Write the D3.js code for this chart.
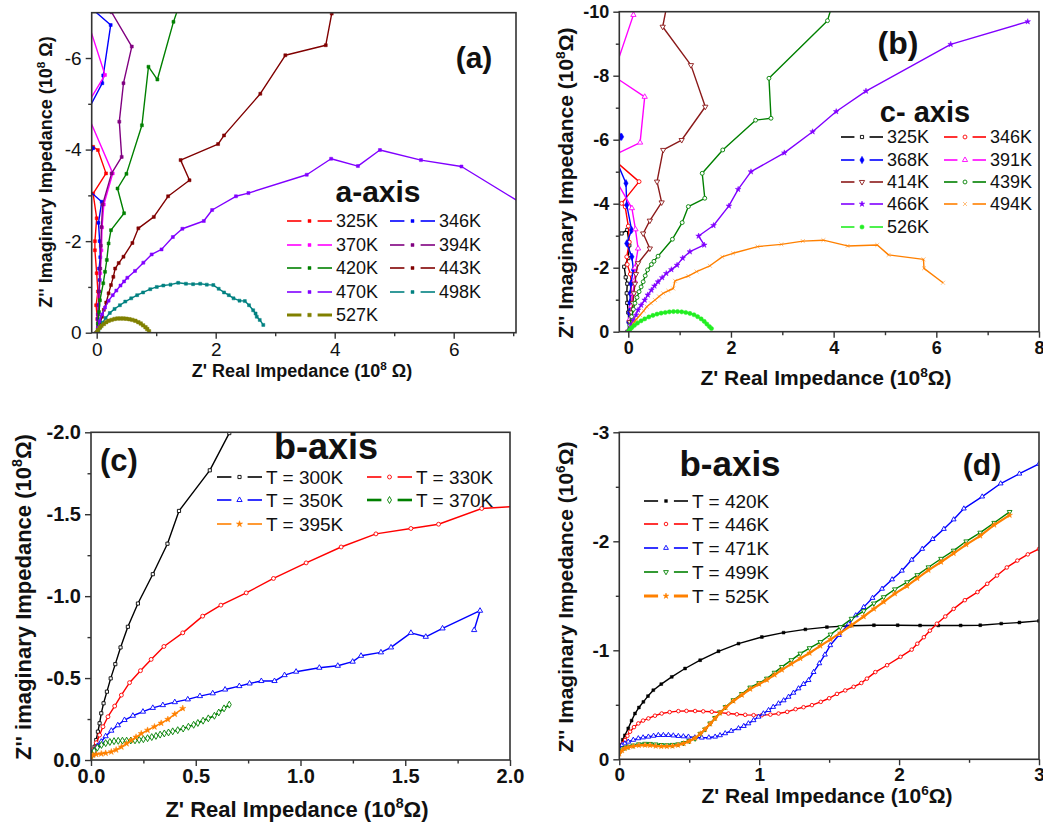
<!DOCTYPE html>
<html><head><meta charset="utf-8">
<script src="https://cdn.jsdelivr.net/npm/d3@7"></script>
<style>body{margin:0;background:#fff} svg{display:block} text{font-family:"Liberation Sans",Arial,sans-serif;fill:#111}</style>
</head><body><svg id="c" width="1043" height="822"></svg>
<script>
// ---------- Panel (a): a-axis, values in 10^8 ohm ----------
const a325 = [[0,0],[0.01,-0.3],[-0.01,-0.6],[0.02,-0.9],[0.0,-1.3],[-0.03,-1.8],[-0.03,-2.0],[0.0,-2.5],[-0.06,-3.04],[0.157,-3.48],[0.02,-3.99],[-0.06,-4.06],[-0.2,-4.2]];
const a346 = [[0,0],[0.02,-0.3],[0.03,-0.6],[0.04,-0.9],[0.05,-1.15],[0.04,-1.4],[0.06,-1.65],[0.05,-2.0],[0.03,-2.4],[0.084,-2.86],[-0.3,-3.3],[-0.06,-4.03],[-0.3,-4.48],[0.094,-5.45],[0.11,-5.62],[0.235,-6.72],[-0.1,-7.1]];
const a370 = [[0,0],[0.02,-0.4],[0.04,-0.8],[0.06,-1.3],[0.08,-1.8],[0.09,-2.3],[0.12,-2.8],[0.27,-3.48],[-0.2,-4.9],[0.14,-5.63],[-0.2,-7.0]];
const a394 = [[0,0],[0.02,-0.4],[0.04,-0.9],[0.06,-1.4],[0.07,-1.9],[0.08,-2.31],[0.1,-2.8],[0.25,-3.48],[0.42,-3.84],[0.38,-4.61],[0.45,-5.45],[0.59,-6.25],[0.25,-7.0],[0.2,-7.3]];
const a420 = [[0,0],[0.02,-0.2],[0.04,-0.45],[0.055,-0.71],[0.11,-1.08],[0.14,-1.33],[0.17,-1.59],[0.2,-1.95],[0.24,-2.24],[0.46,-2.61],[0.35,-3.15],[0.5,-3.47],[0.76,-4.53],[0.87,-5.81],[1.02,-5.53],[1.29,-6.79],[1.4,-7.2]];
const a443 = [[0,0],[0.03,-0.1],[0.06,-0.22],[0.09,-0.35],[0.12,-0.5],[0.16,-0.66],[0.2,-0.86],[0.24,-1.04],[0.28,-1.22],[0.31,-1.40],[0.37,-1.52],[0.45,-1.66],[0.6,-1.96],[0.7,-2.28],[0.96,-2.53],[1.2,-2.98],[1.56,-3.33],[1.41,-3.77],[2.04,-4.12],[2.14,-4.31],[2.75,-5.22],[3.17,-6.06],[3.85,-6.28],[3.95,-6.97],[4.0,-7.4]];
const a470 = [[0,0],[0.02,-0.1],[0.05,-0.25],[0.09,-0.4],[0.14,-0.55],[0.2,-0.7],[0.27,-0.82],[0.33,-0.92],[0.4,-1.03],[0.46,-1.12],[0.515,-1.2],[0.644,-1.35],[0.784,-1.53],[0.924,-1.71],[1.09,-1.82],[1.28,-2.09],[1.44,-2.27],[1.8,-2.44],[1.94,-2.68],[2.34,-2.98],[2.55,-3.05],[3.53,-3.45],[3.94,-3.8],[4.39,-3.64],[4.76,-3.99],[5.45,-3.77],[6.13,-3.63],[7.3,-2.7]];
const a498 = [[0,0],[0.03,-0.05],[0.06,-0.12],[0.1,-0.22],[0.15,-0.32],[0.22,-0.43],[0.3,-0.52],[0.39,-0.6],[0.48,-0.68],[0.58,-0.75],[0.68,-0.82],[0.78,-0.88],[0.9,-0.95],[1.01,-1.0],[1.12,-1.03],[1.24,-1.05],[1.37,-1.09],[1.5,-1.07],[1.62,-1.06],[1.74,-1.07],[1.85,-1.05],[1.96,-1.04],[2.05,-0.96],[2.14,-0.88],[2.22,-0.82],[2.3,-0.75],[2.4,-0.7],[2.49,-0.69],[2.56,-0.6],[2.63,-0.49],[2.67,-0.42],[2.69,-0.35],[2.74,-0.28],[2.8,-0.17]];
const a527 = [[0,0],[0.02,-0.06],[0.05,-0.11],[0.08,-0.15],[0.12,-0.19],[0.16,-0.23],[0.2,-0.26],[0.25,-0.28],[0.3,-0.3],[0.35,-0.31],[0.4,-0.31],[0.45,-0.31],[0.5,-0.305],[0.55,-0.295],[0.6,-0.28],[0.65,-0.26],[0.7,-0.23],[0.74,-0.2],[0.78,-0.16],[0.82,-0.12],[0.85,-0.08],[0.88,-0.03]];
const aLabels = ["325K","346K","370K","394K","420K","443K","470K","498K","527K"];

// ---------- Panel (b): c-axis, values in 10^8 ohm ----------
const b325 = [[0,0],[0.01,-0.3],[0.0,-0.6],[-0.02,-0.9],[-0.03,-1.2],[-0.02,-1.5],[-0.05,-1.7],[-0.08,-2.03],[0.0,-2.3],[0.02,-2.7],[-0.02,-3.18],[-0.13,-3.07],[-0.3,-3.0]];
const b346 = [[0,0],[0.02,-0.3],[0.03,-0.6],[0.05,-0.9],[0.05,-1.2],[0.06,-1.5],[0.04,-1.8],[-0.02,-2.1],[-0.03,-2.34],[0.02,-2.8],[0.0,-3.3],[-0.06,-3.9],[-0.13,-4.01],[0.21,-4.69],[-0.3,-5.4]];
const b368 = [[0,0],[0.01,-0.3],[0.02,-0.6],[0.03,-0.9],[0.04,-1.2],[0.05,-1.5],[0.1,-1.93],[0.07,-2.34],[-0.03,-2.76],[0.065,-3.18],[-0.03,-3.96],[-0.045,-4.64],[-0.3,-5.6],[-0.13,-6.09],[-0.3,-6.6]];
const b391 = [[0,0],[0.03,-0.4],[0.06,-0.8],[0.09,-1.2],[0.12,-1.6],[0.13,-2.0],[0.19,-2.6],[0.14,-3.2],[0.07,-3.86],[-0.3,-4.9],[-0.3,-5.5],[0.23,-5.91],[0.32,-7.34],[-0.3,-8.0],[0.1,-9.9],[0.12,-10.3]];
const b414 = [[0,0],[0.03,-0.3],[0.06,-0.6],[0.09,-0.9],[0.11,-1.2],[0.13,-1.5],[0.15,-1.8],[0.19,-2.14],[0.42,-2.6],[0.29,-3.07],[0.42,-3.47],[0.65,-4.04],[0.56,-4.69],[0.68,-5.68],[1.04,-5.99],[1.5,-7.03],[1.22,-8.33],[0.67,-9.53],[0.74,-10.1]];
const b439 = [[0,0],[0.03,-0.2],[0.065,-0.47],[0.1,-0.7],[0.13,-0.89],[0.17,-1.07],[0.21,-1.25],[0.25,-1.4],[0.29,-1.56],[0.33,-1.75],[0.375,-1.93],[0.45,-2.1],[0.5,-2.2],[0.58,-2.36],[0.86,-2.89],[1.05,-3.41],[1.17,-3.91],[1.49,-4.17],[1.44,-4.95],[1.84,-5.68],[2.48,-6.61],[2.78,-6.67],[2.74,-7.92],[3.88,-9.72],[3.95,-10.1]];
const b466 = [[0,0],[0.05,-0.2],[0.1,-0.36],[0.15,-0.52],[0.19,-0.68],[0.25,-0.83],[0.32,-0.99],[0.38,-1.15],[0.45,-1.3],[0.51,-1.43],[0.58,-1.56],[0.66,-1.69],[0.74,-1.82],[0.84,-1.94],[0.95,-2.08],[1.06,-2.3],[1.2,-2.5],[1.48,-2.71],[1.37,-2.99],[1.66,-3.32],[1.96,-3.93],[2.14,-4.45],[2.39,-5.0],[3.04,-5.59],[3.59,-6.25],[4.05,-6.88],[4.63,-7.52],[6.28,-8.98],[7.78,-9.69]];
const b494 = [[0,0],[0.05,-0.12],[0.1,-0.26],[0.16,-0.39],[0.23,-0.52],[0.3,-0.65],[0.36,-0.78],[0.44,-0.89],[0.52,-0.99],[0.6,-1.1],[0.68,-1.2],[0.78,-1.28],[0.875,-1.35],[0.91,-1.59],[1.17,-1.74],[1.33,-1.88],[1.59,-2.06],[1.83,-2.34],[2.04,-2.45],[2.52,-2.66],[2.98,-2.73],[3.4,-2.83],[3.8,-2.86],[4.27,-2.68],[4.85,-2.71],[5.07,-2.4],[5.75,-2.26],[5.76,-1.98],[6.13,-1.53]];
const b526 = [[0,0],[0.03,-0.06],[0.07,-0.13],[0.12,-0.2],[0.18,-0.27],[0.25,-0.34],[0.32,-0.4],[0.4,-0.46],[0.48,-0.51],[0.56,-0.55],[0.64,-0.58],[0.72,-0.6],[0.8,-0.62],[0.88,-0.63],[0.96,-0.63],[1.04,-0.62],[1.12,-0.6],[1.2,-0.57],[1.28,-0.53],[1.35,-0.47],[1.42,-0.4],[1.48,-0.32],[1.53,-0.24],[1.58,-0.16],[1.62,-0.1]];
const bLabels = ["325K","346K","368K","391K","414K","439K","466K","494K","526K"];

// ---------- Panel (c): b-axis low T, values in 10^8 ohm ----------
const c300 = [[0,-0.02],[0.01,-0.05],[0.017,-0.081],[0.025,-0.122],[0.033,-0.173],[0.041,-0.224],[0.049,-0.285],[0.06,-0.346],[0.076,-0.417],[0.094,-0.498],[0.116,-0.585],[0.141,-0.687],[0.176,-0.813],[0.224,-0.955],[0.295,-1.134],[0.365,-1.32],[0.42,-1.52],[0.567,-1.768],[0.66,-1.995],[0.68,-2.05]];
const c330 = [[0.005,-0.03],[0.014,-0.065],[0.025,-0.105],[0.041,-0.152],[0.057,-0.203],[0.081,-0.264],[0.113,-0.329],[0.145,-0.396],[0.184,-0.472],[0.236,-0.545],[0.287,-0.614],[0.348,-0.693],[0.438,-0.776],[0.533,-0.878],[0.62,-0.945],[0.741,-1.02],[0.871,-1.108],[1.027,-1.203],[1.194,-1.3],[1.36,-1.38],[1.527,-1.413],[1.659,-1.439],[1.865,-1.535],[2.05,-1.55]];
const c350 = [[0.005,-0.03],[0.014,-0.057],[0.03,-0.085],[0.049,-0.112],[0.07,-0.145],[0.097,-0.179],[0.128,-0.212],[0.16,-0.244],[0.2,-0.27],[0.248,-0.295],[0.295,-0.318],[0.343,-0.335],[0.4,-0.353],[0.462,-0.37],[0.52,-0.39],[0.581,-0.407],[0.64,-0.43],[0.708,-0.451],[0.757,-0.467],[0.813,-0.482],[0.876,-0.482],[0.924,-0.518],[0.979,-0.539],[1.09,-0.563],[1.178,-0.575],[1.249,-0.6],[1.289,-0.636],[1.384,-0.657],[1.432,-0.687],[1.527,-0.776],[1.598,-0.752],[1.678,-0.803],[1.857,-0.911],[1.829,-0.793]];
const c370 = [[0.005,-0.03],[0.015,-0.055],[0.03,-0.075],[0.05,-0.092],[0.07,-0.103],[0.09,-0.11],[0.11,-0.115],[0.13,-0.117],[0.15,-0.118],[0.17,-0.118],[0.19,-0.119],[0.21,-0.12],[0.23,-0.123],[0.25,-0.127],[0.27,-0.133],[0.29,-0.14],[0.31,-0.147],[0.33,-0.155],[0.35,-0.162],[0.37,-0.168],[0.39,-0.175],[0.414,-0.182],[0.44,-0.192],[0.465,-0.203],[0.49,-0.215],[0.51,-0.226],[0.535,-0.24],[0.56,-0.254],[0.589,-0.27],[0.61,-0.29],[0.635,-0.315],[0.66,-0.338]];
const c395 = [[0,-0.02],[0.01,-0.03],[0.025,-0.035],[0.049,-0.038],[0.07,-0.042],[0.097,-0.05],[0.12,-0.062],[0.145,-0.08],[0.17,-0.1],[0.192,-0.12],[0.215,-0.14],[0.24,-0.161],[0.27,-0.182],[0.303,-0.203],[0.335,-0.225],[0.367,-0.248],[0.4,-0.28],[0.438,-0.315]];
const cLabels = ["T = 300K","T = 330K","T = 350K","T = 370K","T = 395K"];

// ---------- Panel (d): b-axis high T, values in 10^6 ohm ----------
const d420 = [[0,-0.08],[0.01,-0.13],[0.025,-0.18],[0.04,-0.22],[0.064,-0.284],[0.088,-0.355],[0.112,-0.42],[0.14,-0.475],[0.172,-0.527],[0.205,-0.58],[0.243,-0.634],[0.3,-0.69],[0.375,-0.756],[0.47,-0.833],[0.578,-0.909],[0.709,-0.991],[0.852,-1.061],[1.019,-1.122],[1.174,-1.162],[1.33,-1.192],[1.484,-1.213],[1.65,-1.225],[1.82,-1.23],[1.99,-1.23],[2.15,-1.228],[2.28,-1.228],[2.44,-1.228],[2.58,-1.23],[2.73,-1.245],[2.86,-1.255],[3.0,-1.27]];
const d446 = [[0,-0.07],[0.01,-0.11],[0.025,-0.145],[0.041,-0.177],[0.058,-0.215],[0.077,-0.253],[0.105,-0.295],[0.136,-0.329],[0.17,-0.355],[0.208,-0.375],[0.255,-0.4],[0.303,-0.42],[0.36,-0.433],[0.422,-0.442],[0.48,-0.444],[0.542,-0.443],[0.6,-0.44],[0.661,-0.436],[0.72,-0.428],[0.78,-0.42],[0.84,-0.413],[0.9,-0.408],[0.96,-0.405],[1.019,-0.405],[1.08,-0.41],[1.138,-0.42],[1.2,-0.435],[1.26,-0.46],[1.317,-0.478],[1.377,-0.497],[1.44,-0.527],[1.5,-0.56],[1.556,-0.6],[1.615,-0.632],[1.675,-0.665],[1.73,-0.7],[1.77,-0.74],[1.83,-0.8],[1.914,-0.863],[2.01,-0.94],[2.09,-1.006],[2.13,-1.06],[2.177,-1.12],[2.22,-1.18],[2.27,-1.244],[2.33,-1.31],[2.39,-1.38],[2.47,-1.46],[2.56,-1.534],[2.63,-1.61],[2.7,-1.686],[2.77,-1.76],[2.845,-1.823],[2.92,-1.88],[3.0,-1.93]];
const d471 = [[0,-0.1],[0.02,-0.13],[0.04,-0.145],[0.064,-0.161],[0.1,-0.178],[0.136,-0.192],[0.17,-0.2],[0.208,-0.207],[0.245,-0.215],[0.279,-0.222],[0.315,-0.222],[0.351,-0.222],[0.386,-0.218],[0.422,-0.213],[0.458,-0.21],[0.494,-0.207],[0.54,-0.2],[0.59,-0.198],[0.64,-0.2],[0.685,-0.207],[0.72,-0.22],[0.757,-0.238],[0.8,-0.26],[0.852,-0.284],[0.89,-0.305],[0.923,-0.329],[0.96,-0.358],[0.995,-0.39],[1.03,-0.42],[1.067,-0.451],[1.1,-0.48],[1.138,-0.512],[1.175,-0.54],[1.21,-0.573],[1.245,-0.61],[1.281,-0.65],[1.317,-0.69],[1.353,-0.726],[1.389,-0.8],[1.43,-0.88],[1.47,-0.96],[1.508,-1.046],[1.57,-1.14],[1.64,-1.244],[1.69,-1.32],[1.747,-1.396],[1.81,-1.48],[1.878,-1.564],[1.95,-1.65],[2.02,-1.73],[2.09,-1.83],[2.165,-1.93],[2.24,-2.02],[2.32,-2.113],[2.39,-2.2],[2.463,-2.3],[2.594,-2.41],[2.726,-2.53],[2.86,-2.62],[3.0,-2.71]];
const d499 = [[0,-0.06],[0.02,-0.09],[0.04,-0.105],[0.064,-0.116],[0.1,-0.127],[0.14,-0.138],[0.184,-0.143],[0.22,-0.142],[0.26,-0.137],[0.3,-0.132],[0.34,-0.13],[0.38,-0.133],[0.42,-0.138],[0.46,-0.15],[0.5,-0.168],[0.542,-0.19],[0.58,-0.235],[0.613,-0.275],[0.65,-0.33],[0.685,-0.38],[0.72,-0.43],[0.76,-0.48],[0.816,-0.543],[0.876,-0.6],[0.936,-0.659],[1.0,-0.7],[1.055,-0.741],[1.11,-0.795],[1.162,-0.848],[1.23,-0.91],[1.294,-0.97],[1.36,-1.02],[1.437,-1.076],[1.51,-1.145],[1.58,-1.213],[1.66,-1.29],[1.747,-1.36],[1.82,-1.43],[1.89,-1.488],[1.97,-1.56],[2.057,-1.625],[2.13,-1.69],[2.21,-1.762],[2.3,-1.84],[2.39,-1.915],[2.48,-2.0],[2.58,-2.08],[2.68,-2.17],[2.79,-2.27]];
const d525 = [[0,-0.05],[0.02,-0.08],[0.04,-0.1],[0.064,-0.11],[0.1,-0.12],[0.14,-0.128],[0.184,-0.13],[0.22,-0.128],[0.26,-0.122],[0.3,-0.118],[0.34,-0.118],[0.38,-0.122],[0.42,-0.13],[0.46,-0.145],[0.5,-0.165],[0.542,-0.195],[0.58,-0.235],[0.613,-0.275],[0.65,-0.325],[0.685,-0.375],[0.72,-0.425],[0.76,-0.475],[0.816,-0.535],[0.876,-0.59],[0.936,-0.645],[1.0,-0.69],[1.055,-0.728],[1.11,-0.775],[1.162,-0.82],[1.23,-0.875],[1.294,-0.925],[1.36,-0.975],[1.437,-1.04],[1.51,-1.1],[1.58,-1.16],[1.66,-1.23],[1.747,-1.31],[1.82,-1.38],[1.89,-1.445],[1.97,-1.52],[2.057,-1.59],[2.13,-1.66],[2.21,-1.735],[2.3,-1.81],[2.39,-1.89],[2.48,-1.97],[2.58,-2.05],[2.68,-2.15],[2.79,-2.24]];
const dLabels = ["T = 420K","T = 446K","T = 471K","T = 499K","T = 525K"];

// ---------- tick values ----------
const aXTicks = [0,2,4,6], aYTicks = [0,-2,-4,-6];
const bXTicks = [0,2,4,6,8], bYTicks = [0,-2,-4,-6,-8,-10];
const cXTicks = [0,0.5,1.0,1.5,2.0], cYTicks = [0,-0.5,-1.0,-1.5,-2.0];
const dXTicks = [0,1,2,3], dYTicks = [0,-1,-2,-3];

const svg = d3.select("#c");
const FONT = '"Liberation Sans", Arial, sans-serif';

const SYM = {
  sq: {t: d3.symbolSquare, rot:0}, ci: {t: d3.symbolCircle, rot:0}, di: {t: d3.symbolDiamond, rot:0},
  tu: {t: d3.symbolTriangle, rot:0}, td: {t: d3.symbolTriangle, rot:180}, st: {t: d3.symbolStar, rot:0},
  x: {t: d3.symbolTimes, rot:0}
};

function drawPanel(p) {
  const x = d3.scaleLinear().domain(p.xd).range([p.L, p.R]);
  const y = d3.scaleLinear().domain(p.yd).range([p.B, p.T]);
  const g = svg.append("g");
  const cid = "clip" + p.id;
  g.append("clipPath").attr("id", cid).append("rect")
    .attr("x", p.L).attr("y", p.T).attr("width", p.R - p.L).attr("height", p.B - p.T);
  const plot = g.append("g").attr("clip-path", `url(#${cid})`);
  const line = d3.line().x(d => x(d[0])).y(d => y(d[1]));
  p.series.forEach(s => {
    plot.append("path").datum(s.data).attr("d", line).attr("fill", "none")
      .attr("stroke", s.color).attr("stroke-width", s.lw || 1.4).attr("stroke-linejoin", "round");
    const sym = SYM[s.sym];
    const gen = d3.symbol().type(sym.t).size(s.size || 12);
    plot.selectAll(null).data(s.data).enter().append("path")
      .attr("d", gen)
      .attr("transform", d => `translate(${x(d[0])},${y(d[1])}) rotate(${sym.rot})`)
      .attr("fill", s.open ? "#fff" : s.color)
      .attr("stroke", s.color).attr("stroke-width", s.open ? 0.9 : 0.5);
  });
  // frame
  g.append("rect").attr("x", p.L).attr("y", p.T).attr("width", p.R - p.L).attr("height", p.B - p.T)
    .attr("fill", "none").attr("stroke", "#333").attr("stroke-width", 1.6);
  // axes
  const fmt = d => (d === 0 ? p.zero : d.toFixed(p.dec));
  const ax = g.append("g").attr("transform", `translate(0,${p.B})`)
    .call(d3.axisBottom(x).tickValues(p.xt).tickSize(6).tickPadding(p.xPad || 4).tickFormat(fmt));
  const axm = g.append("g").attr("transform", `translate(0,${p.B})`)
    .call(d3.axisBottom(x).tickValues(p.xm).tickSize(3.5).tickFormat(""));
  const ay = g.append("g").attr("transform", `translate(${p.L},0)`)
    .call(d3.axisLeft(y).tickValues(p.yt).tickSize(6).tickPadding(4).tickFormat(fmt));
  const aym = g.append("g").attr("transform", `translate(${p.L},0)`)
    .call(d3.axisLeft(y).tickValues(p.ym).tickSize(3.5).tickFormat(""));
  [ax, axm, ay, aym].forEach(a => {
    a.select(".domain").remove();
    a.selectAll("line").attr("stroke", "#333").attr("stroke-width", 1.4);
    a.selectAll("text").attr("font-family", FONT).attr("font-size", p.tickFs)
      .attr("font-weight", p.tickBold ? "bold" : "normal").attr("fill", "#111");
  });
  // axis titles
  const sup = Math.round(p.titleFs * 0.4);
  const xt = g.append("text").attr("x", p.xTitle[0]).attr("y", p.xTitle[1]).attr("text-anchor", "middle")
    .attr("font-size", p.titleFs).attr("font-weight", "bold");
  xt.append("tspan").text(p.xTitle[2]);
  xt.append("tspan").attr("dy", -sup).attr("font-size", p.titleFs * 0.65).text(p.exp);
  xt.append("tspan").attr("dy", sup).text(p.xTitle[3]);
  const yt = g.append("text").attr("transform", `translate(${p.yTitle[0]},${p.yTitle[1]}) rotate(-90)`)
    .attr("text-anchor", "middle").attr("font-size", p.titleFs).attr("font-weight", "bold");
  yt.append("tspan").text(p.yTitle[2]);
  yt.append("tspan").attr("dy", -sup).attr("font-size", p.titleFs * 0.65).text(p.exp);
  yt.append("tspan").attr("dy", sup).text(p.yTitle[3]);
  // panel tag and heading
  g.append("text").attr("x", p.tag[0]).attr("y", p.tag[1]).attr("text-anchor", "middle")
    .attr("font-size", p.tag[3]).attr("font-weight", "bold").text(p.tag[2]);
  g.append("text").attr("x", p.head[0]).attr("y", p.head[1]).attr("text-anchor", "middle")
    .attr("font-size", p.head[3]).attr("font-weight", "bold").text(p.head[2]);
  // legend
  p.legend.forEach(e => {
    const s = p.series[e.i];
    const lg = g.append("g");
    lg.append("line").attr("x1", e.x).attr("x2", e.x + e.w * 0.32).attr("y1", e.y).attr("y2", e.y)
      .attr("stroke", s.color).attr("stroke-width", s.lw ? s.lw + 0.8 : 1.6);
    lg.append("line").attr("x1", e.x + e.w * 0.68).attr("x2", e.x + e.w).attr("y1", e.y).attr("y2", e.y)
      .attr("stroke", s.color).attr("stroke-width", s.lw ? s.lw + 0.8 : 1.6);
    const sym = SYM[s.sym];
    lg.append("path").attr("d", d3.symbol().type(sym.t).size(s.size || 12))
      .attr("transform", `translate(${e.x + e.w / 2},${e.y}) rotate(${sym.rot})`)
      .attr("fill", s.open ? "#fff" : s.color).attr("stroke", s.color).attr("stroke-width", s.open ? 0.9 : 0.5);
    lg.append("text").attr("x", e.x + e.w + 4).attr("y", e.y).attr("dy", "0.36em")
      .attr("font-size", p.legFs).text(p.labels[e.i]);
  });
}

// ---------- Panel (a) ----------
drawPanel({
  id: "a", L: 91.7, R: 516, T: 12.7, B: 332.7, xd: [-0.084, 7.047], yd: [0, -6.99],
  xt: aXTicks, xm: [1,3,5,7], yt: aYTicks, ym: [-1,-3,-5], dec: 0, zero: "0",
  tickFs: 19, tickBold: false, titleFs: 18, exp: "8",
  xTitle: [302, 377, "Z' Real Impedance  (10", " \u03A9)"],
  yTitle: [52, 172, "Z'' Imaginary Impedance  (10", " \u03A9)"],
  tag: [474, 68, "(a)", 30], head: [378, 202, "a-axis", 30],
  labels: aLabels, legFs: 18,
  series: [
    {data: a325, color: "#ff0000", sym: "sq", size: 9},
    {data: a346, color: "#0000ff", sym: "sq", size: 9},
    {data: a370, color: "#ff00ff", sym: "sq", size: 9},
    {data: a394, color: "#800080", sym: "sq", size: 9},
    {data: a420, color: "#008000", sym: "sq", size: 9},
    {data: a443, color: "#800000", sym: "sq", size: 9},
    {data: a470, color: "#8000ff", sym: "sq", size: 9},
    {data: a498, color: "#008080", sym: "sq", size: 9},
    {data: a527, color: "#808000", sym: "sq", size: 12, lw: 2.2}
  ],
  legend: [
    {i:0, x:287, y:221, w:45}, {i:1, x:390, y:221, w:45},
    {i:2, x:287, y:245, w:45}, {i:3, x:390, y:245, w:45},
    {i:4, x:287, y:268, w:45}, {i:5, x:390, y:268, w:45},
    {i:6, x:287, y:292, w:45}, {i:7, x:390, y:292, w:45},
    {i:8, x:287, y:315, w:45}
  ]
});

// ---------- Panel (b) ----------
drawPanel({
  id: "b", L: 619.3, R: 1039, T: 11.7, B: 331.7, xd: [-0.175, 8], yd: [0, -10],
  xt: bXTicks, xm: [1,3,5,7], yt: bYTicks, ym: [-1,-3,-5,-7,-9], dec: 0, zero: "0",
  tickFs: 18, tickBold: true, titleFs: 21, exp: "8",
  xTitle: [826, 385, "Z' Real Impedance  (10", "\u03A9)"],
  yTitle: [573, 183, "Z'' Imaginary Impedance  (10", "\u03A9)"],
  tag: [898, 54, "(b)", 32], head: [925, 122, "c- axis", 29],
  labels: bLabels, legFs: 18,
  series: [
    {data: b325, color: "#000000", sym: "sq", size: 10, open: true},
    {data: b346, color: "#ff0000", sym: "ci", size: 12, open: true},
    {data: b368, color: "#0000ff", sym: "di", size: 16},
    {data: b391, color: "#ff00ff", sym: "tu", size: 12, open: true},
    {data: b414, color: "#8b1a1a", sym: "td", size: 12, open: true},
    {data: b439, color: "#008000", sym: "ci", size: 12, open: true},
    {data: b466, color: "#8000ff", sym: "st", size: 10},
    {data: b494, color: "#ff8000", sym: "x", size: 12},
    {data: b526, color: "#22ee22", sym: "ci", size: 14}
  ],
  legend: [
    {i:0, x:841, y:137, w:42}, {i:1, x:944, y:137, w:42},
    {i:2, x:841, y:160, w:42}, {i:3, x:944, y:160, w:42},
    {i:4, x:841, y:182, w:42}, {i:5, x:944, y:182, w:42},
    {i:6, x:841, y:204, w:42}, {i:7, x:944, y:204, w:42},
    {i:8, x:841, y:227, w:42}
  ]
});

// ---------- Panel (c) ----------
drawPanel({
  id: "c", L: 91, R: 510, T: 432.3, B: 760, xd: [0, 2], yd: [0, -2],
  xt: cXTicks, xm: [0.25,0.75,1.25,1.75], yt: cYTicks, ym: [-0.25,-0.75,-1.25,-1.75], dec: 1, zero: "0.0",
  tickFs: 20, tickBold: true, titleFs: 22, exp: "8", xPad: 3,
  xTitle: [297, 817, "Z' Real Impedance (10", "\u03A9)"],
  yTitle: [31, 597, "Z'' imaginary Impedance  (10", "\u03A9)"],
  tag: [119, 471, "(c)", 31], head: [326, 459, "b-axis", 36],
  labels: cLabels, legFs: 19,
  series: [
    {data: c300, color: "#000000", sym: "sq", size: 10, open: true},
    {data: c330, color: "#ff0000", sym: "ci", size: 12, open: true},
    {data: c350, color: "#0000ff", sym: "tu", size: 12, open: true},
    {data: c370, color: "#008000", sym: "di", size: 14, open: true, lw: 1.8},
    {data: c395, color: "#ff8000", sym: "st", size: 12}
  ],
  legend: [
    {i:0, x:217, y:477, w:45}, {i:1, x:367, y:477, w:45},
    {i:2, x:217, y:500, w:45}, {i:3, x:367, y:500, w:45},
    {i:4, x:217, y:524, w:45}
  ]
});

// ---------- Panel (d) ----------
drawPanel({
  id: "d", L: 619.3, R: 1039, T: 432.3, B: 759.3, xd: [0, 3], yd: [0, -3],
  xt: dXTicks, xm: [0.5,1.5,2.5], yt: dYTicks, ym: [-0.5,-1.5,-2.5], dec: 0, zero: "0",
  tickFs: 19, tickBold: true, titleFs: 21, exp: "6", xPad: 2,
  xTitle: [827, 803, "Z' Real Impedance (10", "\u03A9)"],
  yTitle: [573, 597, "Z''  Imaginary Impedance  (10", "\u03A9)"],
  tag: [982, 475, "(d)", 30], head: [730, 476, "b-axis", 35],
  labels: dLabels, legFs: 19,
  series: [
    {data: d420, color: "#000000", sym: "sq", size: 8},
    {data: d446, color: "#ff0000", sym: "ci", size: 10, open: true},
    {data: d471, color: "#0000ff", sym: "tu", size: 10, open: true},
    {data: d499, color: "#008000", sym: "td", size: 10, open: true},
    {data: d525, color: "#ff8000", sym: "st", size: 10, lw: 2.2}
  ],
  legend: [
    {i:0, x:644, y:501, w:44}, {i:1, x:644, y:524, w:44},
    {i:2, x:644, y:548, w:44}, {i:3, x:644, y:572, w:44},
    {i:4, x:644, y:596, w:44}
  ]
});
</script>
</body></html>
